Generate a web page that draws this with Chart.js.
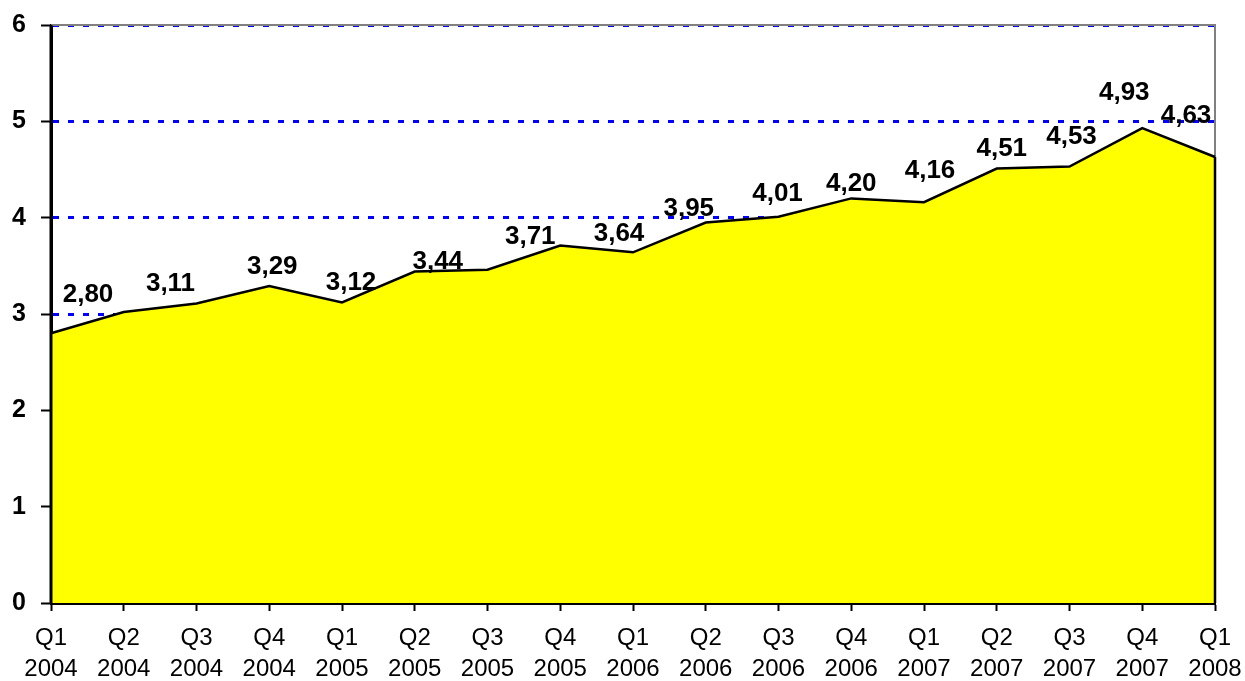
<!DOCTYPE html>
<html>
<head>
<meta charset="utf-8">
<script src="https://cdn.jsdelivr.net/npm/chart.js@4.4.1/dist/chart.umd.min.js"></script>
<style>
  html, body { margin: 0; padding: 0; background: #fff; }
  #wrap { width: 1245px; height: 681px; }
</style>
</head>
<body>
<div id="wrap"><canvas id="areaChart" width="1245" height="681"></canvas></div>
<script>
// 数据
const quarters = ['Q1', 'Q2', 'Q3', 'Q4', 'Q1', 'Q2', 'Q3', 'Q4', 'Q1', 'Q2', 'Q3', 'Q4', 'Q1', 'Q2', 'Q3', 'Q4', 'Q1'];
const years = ['2004', '2004', '2004', '2004', '2005', '2005', '2005', '2005', '2006', '2006', '2006', '2006', '2007', '2007', '2007', '2007', '2008'];
const values = [2.80, 3.02, 3.11, 3.29, 3.12, 3.44, 3.46, 3.71, 3.64, 3.95, 4.01, 4.20, 4.16, 4.51, 4.53, 4.93, 4.63];
const showLabel = [true, false, true, true, true, true, false, true, true, true, true, true, true, true, true, true, true];
const yTicks = [0, 1, 2, 3, 4, 5, 6];

// 标签微调 (相对数据点的像素偏移)
const labelNudge = [
    [37, -38], [0, 0], [-26, -20], [3, -19], [9, -20], [23, -10], [0, 0], [-30, -9], [-14, -19],
    [-17, -14], [-1, -23], [0, -15], [6, -31], [5, -20], [2, -30], [-18, -35], [-29, -41]
];

const FONT = "'Liberation Sans', Arial, sans-serif";

// 边框、坐标轴线和数值标签
const decorPlugin = {
    id: 'decor',
    beforeDatasetsDraw(chart) {
        const { ctx, chartArea: a } = chart;
        ctx.save();
        ctx.strokeStyle = '#808080';
        ctx.lineWidth = 2;
        ctx.beginPath();
        ctx.moveTo(a.left, a.top);
        ctx.lineTo(a.right, a.top);
        ctx.lineTo(a.right, a.bottom);
        ctx.stroke();
        ctx.restore();
    },
    afterDatasetsDraw(chart) {
        const { ctx, chartArea: a, scales } = chart;
        const xs = scales.x, ys = scales.y;
        ctx.save();
        // 右侧面积边线
        const last = values.length - 1;
        ctx.strokeStyle = '#000';
        ctx.lineWidth = 2.5;
        ctx.beginPath();
        ctx.moveTo(xs.getPixelForValue(last), ys.getPixelForValue(values[last]));
        ctx.lineTo(xs.getPixelForValue(last), ys.getPixelForValue(0));
        ctx.stroke();
        // Y 轴线
        ctx.lineWidth = 3;
        ctx.beginPath();
        ctx.moveTo(a.left, a.top);
        ctx.lineTo(a.left, a.bottom);
        ctx.stroke();
        // 数值标签
        ctx.fillStyle = '#000';
        ctx.font = 'bold 26px ' + FONT;
        ctx.textAlign = 'center';
        ctx.textBaseline = 'middle';
        values.forEach((v, i) => {
            if (!showLabel[i]) return;
            const px = xs.getPixelForValue(i) + labelNudge[i][0];
            const py = ys.getPixelForValue(v) + labelNudge[i][1];
            ctx.fillText(v.toFixed(2).replace('.', ','), px, py);
        });
        ctx.restore();
    }
};

const ctx = document.getElementById('areaChart').getContext('2d');
new Chart(ctx, {
    type: 'line',
    data: {
        labels: quarters.map((q, i) => [q, years[i]]),
        datasets: [{
            data: values,
            borderColor: '#000',
            borderWidth: 2.5,
            backgroundColor: '#FFFF00',
            fill: 'origin',
            tension: 0,
            pointRadius: 0,
            pointHoverRadius: 0,
        }]
    },
    options: {
        responsive: false,
        animation: false,
        events: [],
        layout: { padding: { top: 25, right: 0, left: 0, bottom: 0 } },
        plugins: {
            legend: { display: false },
            tooltip: { enabled: false },
        },
        scales: {
            x: {
                z: 1,
                offset: false,
                grid: {
                    drawOnChartArea: false,
                    drawTicks: true,
                    tickLength: 8,
                    tickColor: '#000',
                    tickWidth: 2,
                    offset: false,
                },
                border: { display: true, color: '#000', width: 3 },
                ticks: {
                    color: '#000',
                    font: { family: FONT, size: 24, lineHeight: 1.3 },
                    padding: 12,
                    maxRotation: 0,
                    autoSkip: false,
                },
                afterFit(scale) {
                    scale.height = 78;
                    scale.paddingLeft = 0;
                    scale.paddingRight = 30;
                }
            },
            y: {
                min: 0,
                max: 6,
                afterBuildTicks(scale) { scale.ticks = yTicks.map(v => ({ value: v })); },
                grid: {
                    color: '#0000FF',
                    lineWidth: 3,
                    tickLength: 10,
                    tickColor: '#000',
                    tickWidth: 2,
                    tickBorderDash: [],
                },
                border: { display: true, color: '#000', width: 3, dash: [6, 9] },
                ticks: {
                    color: '#000',
                    font: { family: FONT, size: 25, weight: 'bold' },
                    padding: 15,
                },
                afterFit(scale) {
                    scale.width = 51;
                    scale.paddingTop = 0;
                    scale.paddingBottom = 0;
                }
            }
        }
    },
    plugins: [decorPlugin]
});
</script>
</body>
</html>
